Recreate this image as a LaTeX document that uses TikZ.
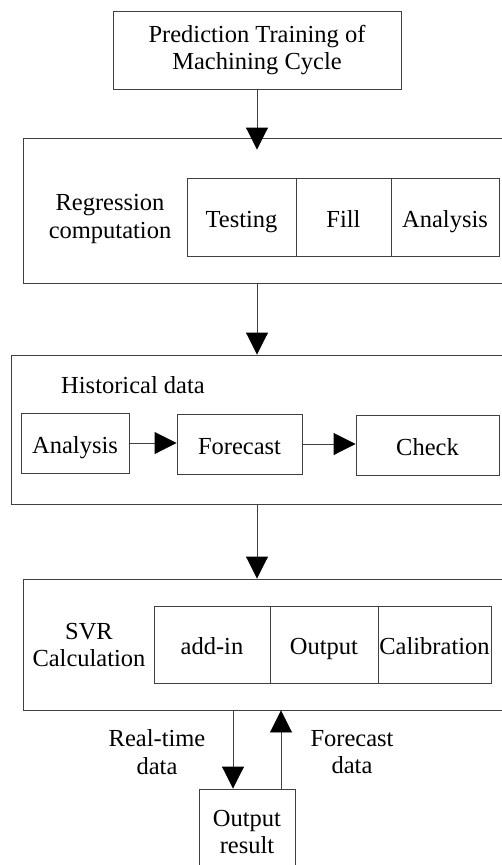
\documentclass[tikz,border=0pt]{standalone}
\usepackage{fontspec}
\setmainfont{Liberation Serif}
\usetikzlibrary{arrows.meta}
\tikzset{
  box/.style={draw=black!75, line width=0.9pt, inner sep=0pt, align=center},
  cell/.style={box, text height=20pt, text depth=0pt},
  arr/.style={draw=black!75, line width=0.9pt, -{Triangle[width=22pt,length=22pt,color=black]}},
}
\begin{document}
\begin{tikzpicture}[x=1pt,y=-1pt,font=\fontsize{24.5}{27.5}\selectfont]
\useasboundingbox (0,0) rectangle (501,865);
\node[box, minimum width=288pt, minimum height=78pt] (train) at (257,50) {Prediction Training of\\Machining Cycle};
% regression block
\node[box, minimum width=480pt, minimum height=145pt] (regbox) at (263,210.5) {};
\node[align=center] (regtxt) at (110,219) {Regression\\computation};
\node[cell, minimum width=109pt, minimum height=78pt] (testing) at (241.5,217) {Testing};
\node[cell, minimum width=95pt, minimum height=78pt] (fill) at (343.5,217) {Fill};
\node[cell, minimum width=108pt, minimum height=78pt] (analysisA) at (445,217) {Analysis};
% historical data block
\node[box, minimum width=492pt, minimum height=149pt] (histbox) at (257,429.5) {};
\node (histtxt) at (133,385) {Historical data};
\node[cell, minimum width=108pt, minimum height=60pt] (analysisB) at (75,443) {Analysis};
\node[cell, minimum width=125pt, minimum height=60pt] (forecast) at (239.5,444) {Forecast};
\node[cell, minimum width=143pt, minimum height=60pt] (check) at (427.5,445) {Check};
\draw[arr] (analysisB.east) -- (analysisB.east -| forecast.west);
\draw[arr] (forecast.east) -- (forecast.east -| check.west);
% svr block
\node[box, minimum width=480pt, minimum height=131pt] (svrbox) at (263,644.5) {};
\node[align=center] (svrtxt) at (89,645) {SVR\\Calculation};
\node[cell, minimum width=116pt, minimum height=77pt] (addin) at (212,644.5) {add-in};
\node[cell, minimum width=108pt, minimum height=77pt] (output) at (324,644.5) {Output};
\node[cell, minimum width=113pt, minimum height=77pt] (calib) at (434.5,644.5) {Calibration};
\node[box, minimum width=96pt, minimum height=86pt] (result) at (247,832) {Output\\result};
\node[align=center] (rtlabel) at (157,752) {Real-time\\data};
\node[align=center] (fclabel) at (352,752) {Forecast\\data};
\draw[arr, shorten >=-12pt] (train.south) -- (train.south |- regbox.north);
\draw[arr] (regbox.south -| histbox.north) -- (histbox.north);
\draw[arr] (histbox.south) -- (histbox.south |- svrbox.north);
\draw[arr] ([xshift=-14pt]result.north |- svrbox.south) -- ([xshift=-14pt]result.north);
\draw[arr] ([xshift=34pt]result.north) -- ([xshift=34pt]result.north |- svrbox.south);
\end{tikzpicture}
\end{document}
